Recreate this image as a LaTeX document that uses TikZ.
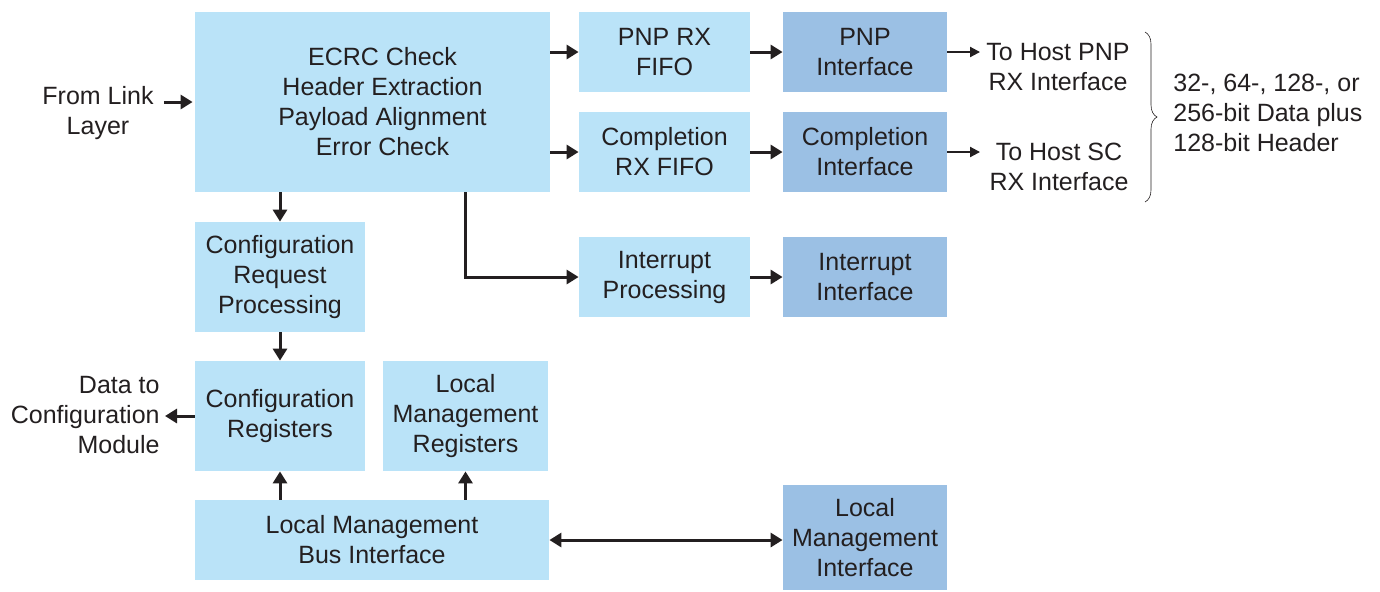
\documentclass[tikz,border=0pt]{standalone}
\usepackage{fontspec}
\setmainfont{Liberation Sans}
\usetikzlibrary{arrows.meta, positioning, decorations.pathreplacing}

\definecolor{boxlight}{HTML}{BAE3F8}
\definecolor{boxdark}{HTML}{9BC0E4}
\definecolor{ink}{HTML}{231F20}

\begin{document}
\begin{tikzpicture}[
		x=0.5pt, y=-0.5pt,
		every node/.style={text=ink, font=\fontsize{12.5}{15}\selectfont, align=center},
		block/.style={fill=boxlight, inner sep=0pt, minimum width=85.5pt, minimum height=40pt},
		iface/.style={fill=boxdark, inner sep=0pt, minimum width=82pt, minimum height=40pt},
		label/.style={inner sep=0pt},
		arrow/.style={-{Triangle[length=6pt, width=7pt]}, line width=1.5pt, draw=ink},
		darrow/.style={{Triangle[length=6pt, width=7pt]}-{Triangle[length=6pt, width=7pt]}, line width=1.5pt, draw=ink},
		outarrow/.style={-{Triangle[length=5pt, width=5pt]}, line width=1pt, draw=ink}
	]
	
		\useasboundingbox (0,0) rectangle (1380,591);
	
		% Nodes
		\node[block, minimum width=177.5pt, minimum height=90pt] (main) at (372.5,102) {\hspace*{10pt}ECRC Check\\\hspace*{10pt}Header Extraction\\\hspace*{10pt}Payload Alignment\\\hspace*{10pt}Error Check};
		\node[block] (pnpfifo) at (664.5,52) {PNP RX\\FIFO};
		\node[iface] (pnpif) at (865,52) {PNP\\Interface};
		\node[block] (cplfifo) at (664.5,152) {Completion\\RX FIFO};
		\node[iface] (cplif) at (865,152) {Completion\\Interface};
		\node[block] (intproc) at (664.5,277) {Interrupt\\Processing};
		\node[iface] (intif) at (865,277) {Interrupt\\Interface};
		\node[block, minimum width=85pt, minimum height=55pt] (cfgreq) at (280,277) {Configuration\\Request\\Processing};
		\node[block, minimum width=85pt, minimum height=55pt] (cfgreg) at (280,416) {Configuration\\Registers};
		\node[block, minimum width=82.5pt, minimum height=55pt] (lmreg) at (465.5,416) {Local\\Management\\Registers};
		\node[block, minimum width=177pt] (lmbus) at (372,540) {Local Management\\Bus Interface};
		\node[iface, minimum height=52.5pt] (lmif) at (865,537.5) {Local\\Management\\Interface};
		
		\node[label] (link) at (98,113) {From Link\\Layer};
		\node[label, align=right, anchor=east] (datacfg) at (160,415) {Data to\\Configuration\\Module};
		\node[label] (hostpnp) at (1058,67) {To Host PNP\\RX Interface};
		\node[label] (hostsc) at (1059,167) {To Host SC\\RX Interface};
		\node[label, align=left, anchor=west] (width) at (1173,113) {32-, 64-, 128-, or\\256-bit Data plus\\128-bit Header};
		\coordinate (bracetop) at (1145,32);
		\coordinate (bracebot) at (1145,202);
		
		% Arrows
		\draw[arrow, shorten <=5pt, shorten >=1pt] (main.west -| link.east) -- (main.west);
		\draw[arrow] (main.east |- pnpfifo) -- (pnpfifo);
		\draw[arrow] (main.east |- cplfifo) -- (cplfifo);
		\draw[arrow] (main.south -| lmreg) |- (intproc);
		\draw[arrow] (pnpfifo) -- (pnpif);
		\draw[arrow] (cplfifo) -- (cplif);
		\draw[arrow] (intproc) -- (intif);
		\draw[arrow] (main.south -| cfgreq) -- (cfgreq);
		\draw[arrow] (cfgreq) -- (cfgreg);
		\draw[arrow, shorten >=2.5pt] (cfgreg) -- (datacfg.east |- cfgreg);
		\draw[arrow] (lmbus.north -| cfgreg) -- (cfgreg);
		\draw[arrow] (lmbus.north -| lmreg) -- (lmreg);
		\draw[darrow] (lmbus.east) -- (lmbus.east -| lmif.west);
		\draw[outarrow, shorten >=3pt] (pnpif.east) -- (pnpif.east -| hostpnp.west);
		\draw[outarrow, shorten >=3pt] (cplif.east) -- (cplif.east -| hostpnp.west);
		
		% Brace
		\draw[ink, line width=0.3pt, decoration={brace, amplitude=6pt}, decorate] (bracetop) -- (bracebot);
		
	\end{tikzpicture}
\end{document}
